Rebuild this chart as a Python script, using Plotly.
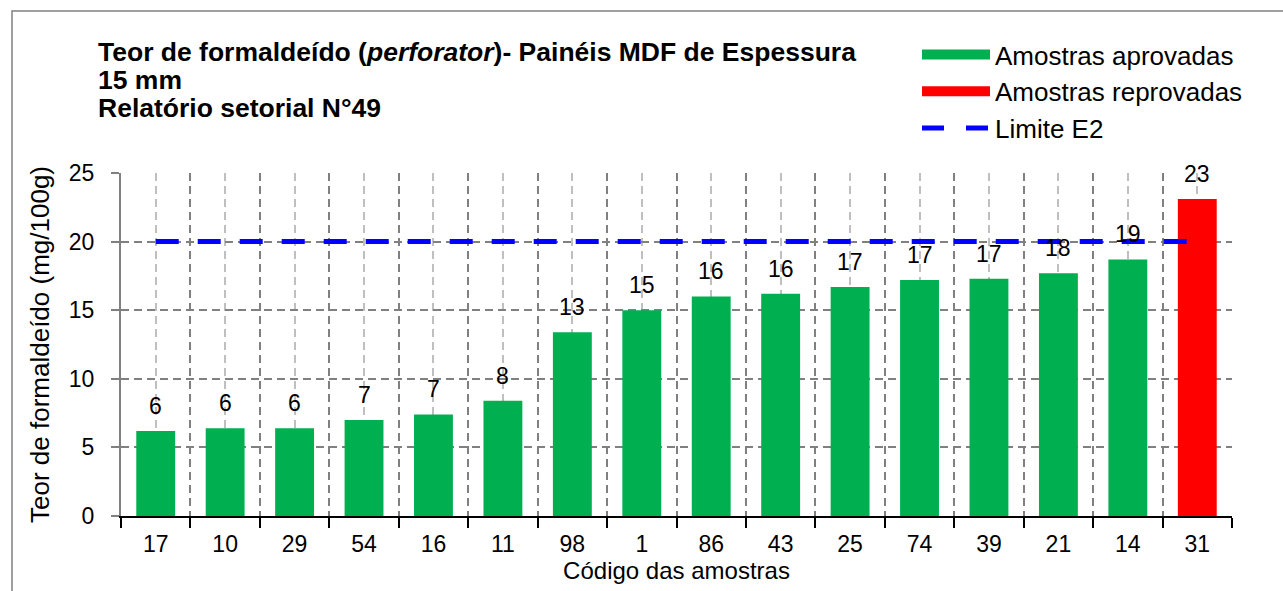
import plotly.graph_objects as go

# Código das amostras e teor de formaldeído (mg/100g)
codigos = ['17', '10', '29', '54', '16', '11', '98', '1',
           '86', '43', '25', '74', '39', '21', '14', '31']
teor = [6.2, 6.4, 6.4, 7.0, 7.4, 8.4, 13.4, 15.0,
        16.0, 16.2, 16.7, 17.2, 17.3, 17.7, 18.7, 23.1]
limite_e2 = 20

titulo = ['Teor de formaldeído (<i>perforator</i>)- Painéis MDF de Espessura',
          '15 mm',
          'Relatório setorial N°49']

GREEN = '#00B050'
RED = '#FF0000'
BLUE = '#0000FF'
FONT = 'Liberation Sans, Arial, sans-serif'

W, H = 1283, 591
L, R, T, B = 121, 51, 173, 75
PW, PH = W - L - R, H - T - B

pos = list(range(len(codigos)))
cores = [GREEN if v <= limite_e2 else RED for v in teor]
rotulos = [f'{v:.0f}' for v in teor]

fig = go.Figure()

fig.add_trace(go.Bar(
    x=pos, y=teor, width=0.56, marker=dict(color=cores, line=dict(width=0)),
    showlegend=False, hoverinfo='y'))

fig.add_trace(go.Scatter(
    x=pos, y=[limite_e2] * len(pos), mode='lines',
    line=dict(color=BLUE, width=5, dash='23px,19px'),
    showlegend=False))

# entradas da legenda
for nome, cor, w, dash in [('Amostras aprovadas', GREEN, 14, 'solid'),
                           ('Amostras reprovadas', RED, 14, 'solid'),
                           ('Limite E2', BLUE, 5, '22px,22px')]:
    fig.add_trace(go.Scatter(
        x=[None], y=[None], mode='lines', name=nome,
        line=dict(color=cor, width=w, dash=dash)))

# rótulos dos valores
anots = [dict(x=p, y=v, text=t, showarrow=False, yanchor='bottom',
              yshift=10, font=dict(size=23, color='black'))
         for p, v, t in zip(pos, teor, rotulos)]

# título em três linhas
for i, linha in enumerate(titulo):
    anots.append(dict(
        xref='paper', yref='paper', x=(96 - L) / PW,
        y=(H - B - (52 + 28 * i)) / PH, xanchor='left', yanchor='middle',
        text=f'<b>{linha}</b>', showarrow=False,
        font=dict(size=26.5, color='black')))

fig.update_layout(
    width=W, height=H,
    margin=dict(l=L, r=R, t=T, b=B),
    plot_bgcolor='white', paper_bgcolor='white',
    font=dict(family=FONT, color='black'),
    annotations=anots,
    legend=dict(
        x=(917 - L) / PW, y=(H - B - 31) / PH, xanchor='left', yanchor='top',
        font=dict(size=26, family=FONT), bgcolor='rgba(0,0,0,0)',
        tracegroupgap=0, itemwidth=68),
    xaxis=dict(
        range=[-0.5, 15.5], tickmode='array', tickvals=pos, ticktext=codigos,
        ticks='', tickfont=dict(size=23), ticklabelstandoff=6, showgrid=True,
        gridcolor='#BFBFBF', griddash='8px,5px', gridwidth=1.5,
        showline=True, linecolor='black', linewidth=2, zeroline=False,
        minor=dict(tick0=-0.5, dtick=1, ticks='outside', ticklen=10,
                   tickwidth=2, tickcolor='black', showgrid=True,
                   gridcolor='#808080', griddash='8px,5px', gridwidth=2),
        title=dict(text='Código das amostras', font=dict(size=24),
                   standoff=5)),
    yaxis=dict(
        range=[0, 25], dtick=5, tickfont=dict(size=23),
        ticks='outside', ticklen=8, tickcolor='#808080', tickwidth=2,
        ticklabelstandoff=12,
        showgrid=True, gridcolor='#808080', griddash='8px,5px', gridwidth=2,
        showline=True, linecolor='#808080', linewidth=2, zeroline=False,
        title=dict(text='Teor de formaldeído (mg/100g)', font=dict(size=26),
                   standoff=12)),
    shapes=[dict(type='rect', xref='paper', yref='paper',
                 x0=(12 - L) / PW, x1=1.3, y0=-0.5, y1=(H - B - 11) / PH,
                 line=dict(color='#808080', width=1.5), layer='below')],
)

fig.write_html('out.html', config={'displayModeBar': False},
               post_script="document.body.style.margin='0';")
